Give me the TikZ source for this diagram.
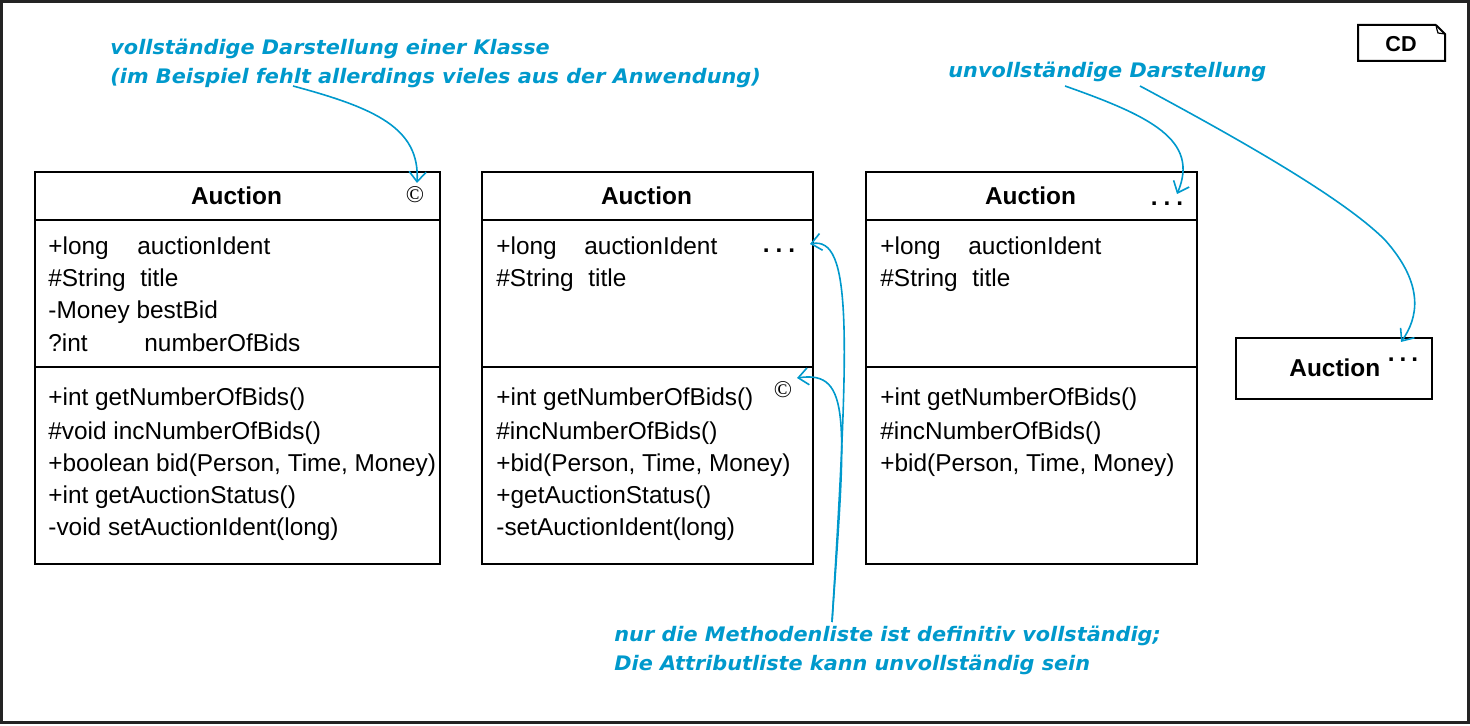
\documentclass[tikz,border=0pt]{standalone}
\usepackage{fontspec}
\setmainfont{Liberation Sans}
\newfontfamily\annfont{DejaVu Sans Bold Oblique}[FakeStretch=1.04]
\newfontfamily\serfont{Liberation Serif}
\usetikzlibrary{arrows.meta}
\definecolor{anncol}{RGB}{0,153,204}
\definecolor{framecol}{RGB}{35,35,35}
\newcommand\colbox[2]{\makebox[#1][l]{#2}}
\begin{document}
\begin{tikzpicture}[x=0.5pt,y=-0.5pt,
  box/.style={draw, line width=1pt, anchor=north west, inner sep=0pt},
  divider/.style={line width=1pt},
  txt/.style={anchor=base west, inner sep=0pt, font=\fontsize{12.2}{14}\selectfont},
  ttl/.style={anchor=base, inner sep=0pt, font=\fontsize{12.2}{14}\selectfont\bfseries},
  ann/.style={anchor=base west, inner sep=0pt, text=anncol, font=\annfont\fontsize{10}{15}\selectfont},
  annarrow/.style={draw=anncol, line width=0.8pt, -{Straight Barb[length=5pt,width=8.5pt]}},
  dotstxt/.style={anchor=base, inner sep=0pt, font=\fontsize{12.2}{14}\selectfont\bfseries},
  copy/.style={anchor=center, inner sep=0pt, font=\serfont\fontsize{12}{14}\selectfont}
]
\useasboundingbox (0,0) rectangle (1470,726);
% outer frame
\draw[line width=1.5pt, draw=framecol] (1.5,1.5) rectangle (1468,722);

% CD tag
\draw[line width=1pt] (1436,25) -- (1358,25) -- (1358,61) -- (1445,61) -- (1445,34) -- (1436,25);
\draw[line width=0.6pt] (1436,25) .. controls (1437,30) .. (1438,33) -- (1445,34);
\node[anchor=center, inner sep=0pt, font=\fontsize{10.8}{12}\selectfont\bfseries] (cd) at (1401,44) {CD};

% ---------- class 1 ----------
\node[box, minimum width=202.5pt, minimum height=196pt] (c1) at (34,171) {};
\draw[divider] (c1.west |- 0,220) -- (c1.east |- 0,220);
\draw[divider] (c1.west |- 0,367) -- (c1.east |- 0,367);
\node[ttl] (c1t) at (236.5,205) {Auction};
\node[copy] (c1c) at (415,195) {\textcopyright};
\node[txt] (c1a1) at (48,255) {\colbox{44.5pt}{+long}auctionIdent};
\node[txt] (c1a2) at (48,287) {\colbox{46pt}{\#String}title};
\node[txt] (c1a3) at (48,319) {-Money bestBid};
\node[txt] (c1a4) at (48,352) {\colbox{48pt}{?int}numberOfBids};
\node[txt] (c1o1) at (48,406) {+int getNumberOfBids()};
\node[txt] (c1o2) at (48,439) {\#void incNumberOfBids()};
\node[txt] (c1o3) at (48,471) {+boolean bid(Person, Time, Money)};
\node[txt] (c1o4) at (48,503) {+int getAuctionStatus()};
\node[txt] (c1o5) at (48,535) {-void setAuctionIdent(long)};

% ---------- class 2 ----------
\node[box, minimum width=165.5pt, minimum height=196pt] (c2) at (481,171) {};
\draw[divider] (c2.west |- 0,220) -- (c2.east |- 0,220);
\draw[divider] (c2.west |- 0,367) -- (c2.east |- 0,367);
\node[ttl] (c2t) at (646.5,205) {Auction};
\node[txt] (c2a1) at (496,255) {\colbox{44pt}{+long}auctionIdent};
\node[txt] (c2a2) at (496,287) {\colbox{46pt}{\#String}title};
\node[dotstxt] (c2d) at (779,253) {.\hspace{3pt}.\hspace{3pt}.};
\node[copy] (c2c) at (783,390) {\textcopyright};
\node[txt] (c2o1) at (496,406) {+int getNumberOfBids()};
\node[txt] (c2o2) at (496,439) {\#incNumberOfBids()};
\node[txt] (c2o3) at (496,471) {+bid(Person, Time, Money)};
\node[txt] (c2o4) at (496,503) {+getAuctionStatus()};
\node[txt] (c2o5) at (496,535) {-setAuctionIdent(long)};

% ---------- class 3 ----------
\node[box, minimum width=165.5pt, minimum height=196pt] (c3) at (865,171) {};
\draw[divider] (c3.west |- 0,220) -- (c3.east |- 0,220);
\draw[divider] (c3.west |- 0,367) -- (c3.east |- 0,367);
\node[ttl] (c3t) at (1030.5,205) {Auction};
\node[dotstxt] (c3d) at (1167,206) {.\hspace{3pt}.\hspace{3pt}.};
\node[txt] (c3a1) at (880,255) {\colbox{44pt}{+long}auctionIdent};
\node[txt] (c3a2) at (880,287) {\colbox{46pt}{\#String}title};
\node[txt] (c3o1) at (880,406) {+int getNumberOfBids()};
\node[txt] (c3o2) at (880,439) {\#incNumberOfBids()};
\node[txt] (c3o3) at (880,471) {+bid(Person, Time, Money)};

% ---------- class 4 (small) ----------
\node[box, minimum width=98pt, minimum height=30.5pt] (c4) at (1235,337) {};
\node[ttl, anchor=base west] (c4t) at (1289,377) {Auction};
\node[dotstxt] (c4d) at (1403,362) {.\hspace{2.5pt}.\hspace{2.5pt}.};

% ---------- annotations ----------
\node[ann] (n1a) at (110,55) {vollständige Darstellung einer Klasse};
\node[ann] (n1b) at (110,84) {(im Beispiel fehlt allerdings vieles aus der Anwendung)};
\node[ann] (n2) at (948,78) {unvollständige Darstellung};
\node[ann] (n3a) at (614,641) {nur die Methodenliste ist definitiv vollständig;};
\node[ann] (n3b) at (614,670) {Die Attributliste kann unvollständig sein};

\coordinate (s1) at (293,86);
\coordinate (t1) at (417,183);
\coordinate (s2) at (1065,86);
\coordinate (t2) at (1177,194);
\coordinate (s3) at (1140,86);
\coordinate (m3) at (1385,240);
\coordinate (t3) at (1401,342);
\coordinate (s4) at (832,622);
\coordinate (t4) at (810,244);
\coordinate (t5) at (797,378);

\draw[annarrow] (s1) .. controls (375,108) and (420,128) .. (t1);
\draw[annarrow] (s2) .. controls (1150,116) and (1200,140) .. (t2);
\draw[annarrow, -] (s3) .. controls (1250,145) and (1345,200) .. (m3);
\draw[annarrow] (m3) .. controls (1425,285) and (1418,318) .. (t3);
\draw[annarrow] (s4) .. controls (850,330) and (852,236) .. (t4);
\draw[annarrow] (s4) .. controls (846,420) and (852,370) .. (t5);
\end{tikzpicture}
\end{document}
